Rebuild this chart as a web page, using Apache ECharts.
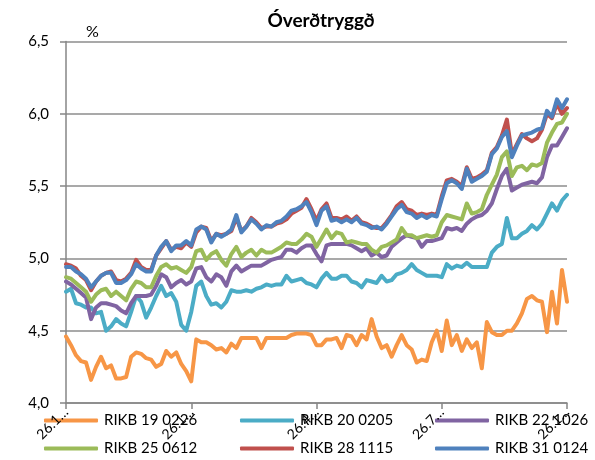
<!DOCTYPE html>
<html><head><meta charset="utf-8">
<script src="https://cdn.jsdelivr.net/npm/echarts@6/dist/echarts.min.js"></script>
<style>html,body{margin:0;padding:0;background:#fff}#c{width:595px;height:460px}</style>
</head><body><div id="c"></div>
<script>
const titleText = 'Óverðtryggð';
const unitText = '%';
const tickLabels = ['26.10.2011', '26.1.2012', '26.4.2012', '26.7.2012', '26.10.2012'];
const categories = Array.from({length: 101}, (_, i) => (i % 25 === 0 ? tickLabels[i / 25] : 'd' + i));
const seriesNames = ['RIKB 19 0226', 'RIKB 20 0205', 'RIKB 22 1026', 'RIKB 25 0612', 'RIKB 28 1115', 'RIKB 31 0124'];
const colors = ['#F79646', '#4BACC6', '#8064A2', '#9BBB59', '#C0504D', '#4F81BD'];

const rikb19 = [4.46,4.40,4.33,4.29,4.28,4.16,4.25,4.32,4.24,4.26,4.17,4.17,4.18,4.32,4.35,4.34,4.31,4.30,4.25,4.27,
4.36,4.32,4.35,4.27,4.22,4.15,4.44,4.42,4.42,4.40,4.37,4.38,4.35,4.41,4.38,4.45,4.45,4.45,4.45,4.38,
4.45,4.45,4.45,4.45,4.45,4.47,4.48,4.48,4.48,4.47,4.40,4.40,4.44,4.44,4.45,4.38,4.47,4.46,4.40,4.47,
4.44,4.58,4.46,4.38,4.40,4.32,4.40,4.47,4.40,4.37,4.28,4.30,4.29,4.42,4.50,4.36,4.57,4.40,4.47,4.36,
4.44,4.38,4.42,4.24,4.56,4.49,4.47,4.47,4.50,4.50,4.55,4.62,4.72,4.74,4.71,4.70,4.49,4.77,4.55,4.92,4.70];
const rikb20 = [4.77,4.79,4.69,4.68,4.66,4.66,4.62,4.63,4.50,4.53,4.58,4.55,4.53,4.63,4.74,4.70,4.59,4.66,4.74,4.81,
4.74,4.76,4.70,4.54,4.50,4.63,4.81,4.84,4.74,4.68,4.69,4.66,4.70,4.78,4.77,4.77,4.78,4.77,4.79,4.80,
4.82,4.81,4.82,4.82,4.88,4.84,4.85,4.86,4.83,4.82,4.80,4.86,4.90,4.86,4.86,4.88,4.88,4.84,4.83,4.80,
4.85,4.84,4.83,4.88,4.84,4.85,4.89,4.90,4.92,4.96,4.92,4.90,4.88,4.88,4.88,4.87,4.96,4.93,4.95,4.94,
4.97,4.94,4.94,4.94,4.94,5.04,5.08,5.10,5.28,5.14,5.14,5.17,5.19,5.23,5.20,5.24,5.31,5.38,5.33,5.40,5.44];
const rikb22 = [4.84,4.82,4.79,4.76,4.73,4.58,4.66,4.69,4.69,4.68,4.67,4.64,4.62,4.69,4.74,4.74,4.74,4.75,4.81,4.89,
4.87,4.80,4.83,4.85,4.82,4.84,4.93,4.94,4.87,4.84,4.89,4.87,4.81,4.91,4.95,4.91,4.93,4.95,4.95,4.95,
4.97,4.99,5.00,5.01,5.06,5.06,5.04,5.07,5.09,5.09,5.03,4.98,5.09,5.10,5.10,5.10,5.10,5.09,5.07,5.05,
5.07,5.02,5.04,5.01,5.02,5.08,5.11,5.14,5.16,5.15,5.14,5.08,5.12,5.12,5.13,5.14,5.21,5.20,5.21,5.19,
5.24,5.27,5.29,5.30,5.33,5.38,5.48,5.57,5.62,5.47,5.49,5.51,5.52,5.53,5.52,5.56,5.70,5.78,5.78,5.84,5.90];
const rikb25 = [4.87,4.86,4.83,4.80,4.77,4.70,4.75,4.78,4.79,4.74,4.77,4.74,4.71,4.79,4.84,4.83,4.80,4.80,4.88,4.94,
4.96,4.93,4.94,4.92,4.90,4.94,5.05,5.06,4.99,5.03,5.05,4.99,4.95,5.03,5.08,5.01,5.04,5.06,5.02,5.06,
5.04,5.04,5.06,5.08,5.11,5.10,5.10,5.13,5.17,5.15,5.08,5.14,5.20,5.14,5.18,5.17,5.11,5.12,5.11,5.10,
5.10,5.06,5.04,5.08,5.09,5.11,5.13,5.21,5.16,5.16,5.14,5.15,5.16,5.15,5.16,5.25,5.30,5.29,5.28,5.27,
5.38,5.31,5.32,5.34,5.44,5.51,5.58,5.70,5.74,5.57,5.63,5.64,5.61,5.65,5.64,5.66,5.80,5.87,5.93,5.94,6.00];
const rikb28 = [4.96,4.95,4.93,4.88,4.85,4.78,4.84,4.88,4.90,4.91,4.85,4.84,4.86,4.90,4.99,4.94,4.92,4.92,5.02,5.07,
5.12,5.06,5.08,5.07,5.11,5.08,5.18,5.22,5.21,5.12,5.17,5.16,5.17,5.19,5.28,5.19,5.22,5.28,5.25,5.21,
5.22,5.22,5.24,5.25,5.27,5.31,5.33,5.35,5.41,5.34,5.26,5.34,5.38,5.28,5.28,5.27,5.29,5.26,5.29,5.25,
5.24,5.22,5.21,5.21,5.25,5.30,5.36,5.39,5.34,5.33,5.30,5.31,5.30,5.31,5.30,5.43,5.54,5.55,5.53,5.50,
5.63,5.55,5.56,5.58,5.61,5.73,5.77,5.85,5.96,5.72,5.79,5.86,5.83,5.81,5.83,5.89,6.00,5.97,6.07,6.00,6.04];
const rikb31 = [4.94,4.94,4.91,4.89,4.86,4.80,4.84,4.88,4.90,4.90,4.83,4.83,4.85,4.89,4.96,4.93,4.91,4.91,5.02,5.08,
5.12,5.05,5.09,5.09,5.12,5.09,5.20,5.22,5.20,5.11,5.17,5.15,5.17,5.20,5.30,5.18,5.22,5.27,5.24,5.20,
5.23,5.22,5.25,5.26,5.29,5.33,5.34,5.36,5.39,5.32,5.23,5.33,5.36,5.26,5.27,5.25,5.27,5.25,5.28,5.24,
5.23,5.21,5.22,5.20,5.24,5.29,5.34,5.37,5.32,5.31,5.28,5.30,5.28,5.30,5.29,5.41,5.52,5.54,5.52,5.48,
5.62,5.53,5.55,5.57,5.60,5.72,5.76,5.84,5.88,5.70,5.78,5.85,5.86,5.87,5.89,5.90,6.02,5.98,6.10,6.04,6.10];

const values = [rikb19, rikb20, rikb22, rikb25, rikb28, rikb31];
const FONT = 'Lato';
const legendPos = [[44, 413], [240, 413], [435, 413], [44, 441], [240, 441], [435, 441]];

const chart = echarts.init(document.getElementById('c'), null, {renderer: 'canvas'});
chart.setOption({
  animation: false,
  color: colors,
  textStyle: {fontFamily: FONT},
  title: [
    {text: titleText, left: 316, top: 6, textAlign: 'center',
     textStyle: {fontFamily: FONT, fontSize: 19, fontWeight: 'bold', color: '#000'}},
    {text: unitText, left: 81, top: 19,
     textStyle: {fontFamily: FONT, fontSize: 16, fontWeight: 'normal', color: '#000'}}
  ],
  legend: seriesNames.map((n, k) => ({
    data: [n], left: legendPos[k][0], top: legendPos[k][1], z: 1,
    icon: 'roundRect', itemWidth: 54, itemHeight: 4, itemGap: 0,
    textStyle: {fontFamily: FONT, fontSize: 15, color: '#000', padding: [0, 0, 0, 1]},
    padding: 0, selectedMode: false
  })),
  grid: {left: 66, right: 28, top: 41.5, bottom: 57, containLabel: false},
  xAxis: {
    type: 'category', data: categories, boundaryGap: false, z: 5,
    axisLine: {lineStyle: {color: '#868686', width: 1.5}},
    axisTick: {show: true, interval: 24, length: 6, lineStyle: {color: '#868686', width: 1.5}},
    axisLabel: {interval: 24, rotate: 45, margin: 7, fontFamily: FONT, fontSize: 14, color: '#000',
      hideOverlap: false, formatter: v => v.slice(0, 4) + '…'},
    splitLine: {show: false}
  },
  yAxis: {
    type: 'value', min: 4, max: 6.5, interval: 0.5,
    axisLine: {show: true, lineStyle: {color: '#868686', width: 1.5}},
    axisTick: {show: true, length: 6, lineStyle: {color: '#868686', width: 1.5}},
    axisLabel: {margin: 17, fontFamily: FONT, fontSize: 15, color: '#000',
      formatter: v => v.toFixed(1).replace('.', ',')},
    splitLine: {show: true, lineStyle: {color: '#8c8c8c', width: 1.5}}
  },
  series: seriesNames.map((n, k) => ({
    name: n, type: 'line', data: values[k], showSymbol: false, symbol: 'none',
    lineStyle: {width: 4, color: colors[k], join: 'round', cap: 'round'},
    itemStyle: {color: colors[k]}
  }))
});
</script></body></html>
